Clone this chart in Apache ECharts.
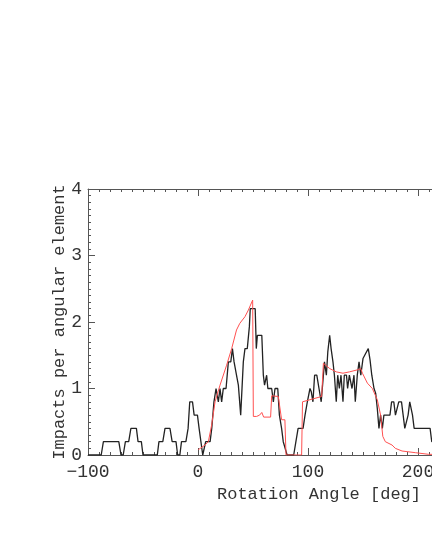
<!DOCTYPE html>
<html>
<head>
<meta charset="utf-8">
<script src="https://cdn.jsdelivr.net/npm/echarts@6/dist/echarts.min.js"></script>
<style>
html,body{margin:0;padding:0;background:#fff;}
#chart{width:432px;height:559px;}
</style>
</head>
<body>
<div id="chart"></div>
<script>
var blackAngle = [-100,-88,-86,-72,-70,-68,-66,-63,-61,-56,-54.5,-51.5,-50,-37,-35.5,-32,-30,-25.5,-23.5,-20,-18.5,-16.5,-15,-11,-9,-7.5,-5,-3.5,-0.5,1,2.5,4.3,5.5,7,11,12.5,14.5,16.4,18.5,20,21.5,23,25.5,27.6,29.8,31.3,32.8,35,36.7,38.8,41.2,42.7,44.8,46.7,47.5,52,53,54,58,59.4,60.5,62.4,63.5,67,68.5,70,72.5,74,76,77.5,79,81,87,89,90,91,95.5,97.3,99.4,101.8,103,104.5,106,108,110,112,115,116.7,118,119.7,121,122.7,124,125.7,127,128.5,130,131.8,133,135,136,137.6,140,141.8,143,144.8,146.4,148,150,152.5,154.8,156.4,158,160,161.5,163,164.5,166,167.6,169,174.5,176,178,179.5,181,182.5,185,186.5,188,189.5,191,192.5,193.5,195,196.5,211,212.5,216];
var blackImpacts = [0,0,0.2,0.2,0,0,0.2,0.2,0.4,0.4,0.2,0.2,0,0,0.2,0.2,0.4,0.4,0.2,0.2,0,0,0.2,0.2,0.4,0.8,0.8,0.6,0.6,0.4,0.4,0,0,0.2,0.2,0.4,0.8,1.0,0.8,1.0,0.8,1.0,1.0,1.4,1.4,1.6,1.4,1.2,1.05,0.6,1.4,1.6,1.6,1.93,2.2,2.2,1.6,1.8,1.8,1.2,1.05,1.2,1.0,1.0,0.8,1.0,1.0,0.6,0.4,0.2,0.2,0,0,0.2,0.2,0.4,0.4,0.6,0.8,1.0,0.95,0.8,1.2,1.2,1.0,0.8,1.4,1.2,1.55,1.8,1.6,1.4,1.2,0.8,1.2,1.0,1.2,0.8,1.2,1.2,1.0,1.2,1.0,1.2,0.8,1.2,1.4,1.2,1.45,1.53,1.6,1.43,1.2,1.0,0.93,0.7,0.4,0.6,0.4,0.6,0.6,0.8,0.8,0.6,0.6,0.8,0.8,0.6,0.4,0.4,0.6,0.8,0.8,0.6,0.4,0.4,0.2,0.2];
var redAngle = [0.3,6.4,9.4,12.4,15.5,20,26,30.6,35,38,42.7,45.8,49.7,50.3,53.3,56,58,59.7,66,67,73,74.5,76,79,80,94.2,95,112.4,114,119.7,125.7,131.8,137.6,144.8,147.9,149.5,154,158.5,163,166,168,170.3,176.4,179.4,185.5,197.6,209.7,216];
var redImpacts = [0.08,0.15,0.2,0.45,0.8,1.05,1.35,1.6,1.88,1.98,2.08,2.18,2.33,0.58,0.58,0.6,0.64,0.57,0.57,0.89,0.88,0.85,0.53,0.53,0,0,0.8,0.88,1.38,1.3,1.25,1.23,1.25,1.28,1.3,1.23,1.08,1.0,0.83,0.6,0.28,0.2,0.15,0.1,0.06,0.035,0.01,0.01];
var xTicks = [-100,0,100,200,300];
var yTicks = [0,1,2,3,4];

function pairs(xs, ys){ return xs.map(function(x,i){ return [x, ys[i]]; }); }

var FONT = '"Liberation Mono", "DejaVu Sans Mono", monospace';
var axisColor = '#555';

var chart = echarts.init(document.getElementById('chart'), null, {renderer:'canvas'});
chart.setOption({
  backgroundColor:'#fff',
  animation:false,
  grid:{left:88, top:189, height:266, width:462, containLabel:false, outerBoundsMode:'none'},
  xAxis:[{
    type:'value', min:-100, max:320, interval:100, position:'bottom',
    name:'Rotation Angle [deg]', nameLocation:'middle', nameGap:31, nameMoveOverlap:false,
    nameTextStyle:{fontFamily:FONT, fontSize:17, color:'#333'},
    axisLine:{show:true, onZero:false, lineStyle:{color:axisColor, width:1}},
    axisTick:{show:true, inside:true, length:7, lineStyle:{color:axisColor}},
    minorTick:{show:true, splitNumber:10, length:3, lineStyle:{color:axisColor}},
    splitLine:{show:false},
    axisLabel:{fontFamily:FONT, fontSize:18, color:'#333', margin:8, hideOverlap:false,
      formatter:function(v){ return xTicks.indexOf(v)>=0 ? String(v).replace('-','\u2212') : ''; }}
  },{
    type:'value', min:-100, max:320, interval:100, position:'top',
    axisLine:{show:true, onZero:false, lineStyle:{color:axisColor, width:1}},
    axisTick:{show:true, inside:true, length:7, lineStyle:{color:axisColor}},
    minorTick:{show:true, splitNumber:10, length:3, lineStyle:{color:axisColor}},
    splitLine:{show:false},
    axisLabel:{show:false}
  }],
  yAxis:[{
    type:'value', min:0, max:4, interval:1,
    name:'Impacts per angular element', nameLocation:'middle', nameGap:20, nameRotate:90, nameMoveOverlap:false,
    nameTextStyle:{fontFamily:FONT, fontSize:17, color:'#333'},
    axisLine:{show:true, onZero:false, lineStyle:{color:axisColor, width:1}},
    axisTick:{show:true, inside:true, length:7, lineStyle:{color:axisColor}},
    minorTick:{show:true, splitNumber:10, length:3, lineStyle:{color:axisColor}},
    splitLine:{show:false},
    axisLabel:{fontFamily:FONT, fontSize:18, color:'#333', margin:6,
      formatter:function(v){ return yTicks.indexOf(v)>=0 ? String(v) : ''; }}
  }],
  series:[{
    type:'line', name:'measured', data:pairs(blackAngle, blackImpacts),
    showSymbol:false, clip:true,
    lineStyle:{color:'#222', width:1.3}, z:2
  },{
    type:'line', name:'model', data:pairs(redAngle, redImpacts),
    showSymbol:false, clip:true,
    lineStyle:{color:'#ff5050', width:1}, z:3
  }]
});
</script>
</body>
</html>
